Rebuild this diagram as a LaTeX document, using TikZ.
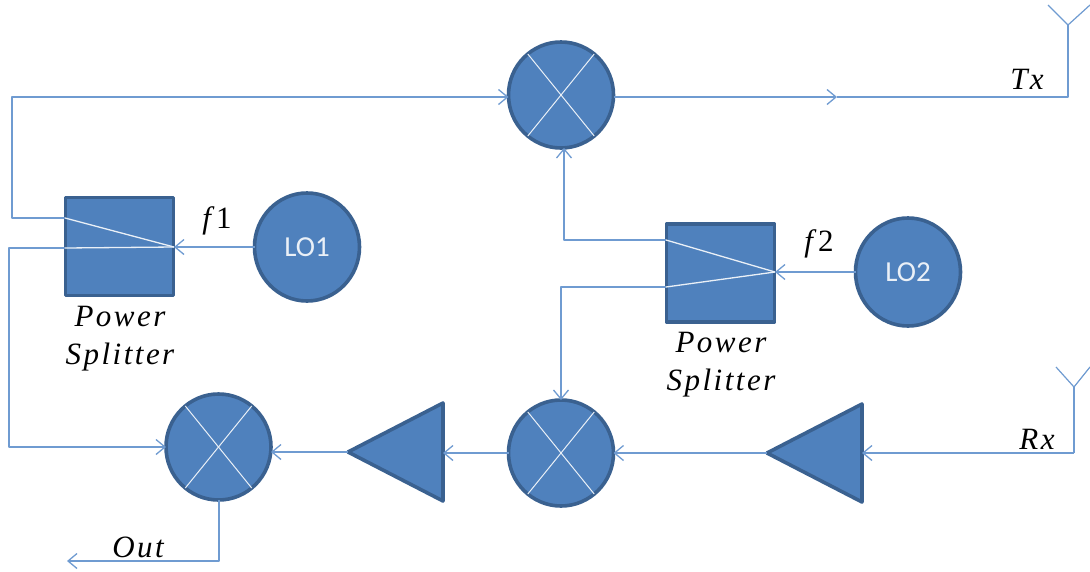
\documentclass[tikz,border=0pt]{standalone}
\usepackage{fontspec}
\setmainfont{Liberation Serif}
\newfontfamily\lofont{Carlito}
\usetikzlibrary{shapes.geometric,arrows.meta}
\definecolor{fillblue}{HTML}{4F81BD}
\definecolor{edgeblue}{HTML}{3A6190}
\definecolor{wireblue}{HTML}{6F9BD1}
\newcommand{\lbl}{\fontsize{31}{38}\selectfont\itshape\addfontfeatures{LetterSpace=8}}
\tikzset{
  x=1pt,y=-1pt,
  block/.style={draw=edgeblue,fill=fillblue,line width=3.6pt,outer sep=0pt,inner sep=0pt,line join=round},
  round blk/.style={block,ellipse,minimum width=105pt,minimum height=106pt},
  lo blk/.style={block,ellipse,minimum width=105pt,minimum height=108pt,text=white!88!fillblue,font=\lofont\fontsize{29}{29}\selectfont},
  split blk/.style={block,rectangle,minimum width=108pt,minimum height=98pt},
  amp blk/.style={block,isosceles triangle,isosceles triangle apex angle=55,isosceles triangle stretches,shape border rotate=180,minimum width=98pt,minimum height=95pt,anchor=apex},
  wire/.style={draw=wireblue,line width=1.6pt,line join=round},
  arrowed/.style={wire,-{Straight Barb[length=9pt,width=15pt,line width=1.3pt]}},
  inner wire/.style={draw=white!88!fillblue,line width=1.3pt},
  txt/.style={inner sep=0pt,text=black,font=\lbl,align=center}
}
\begin{document}
\begin{tikzpicture}
\useasboundingbox (0,0) rectangle (1090,571);
% blocks
\node[round blk] (mixT) at (561,95) {};
\node[round blk] (mixR) at (561,453) {};
\node[round blk] (mixL) at (218.500,447) {};
\node[split blk] (spA) at (119.500,246.500) {};
\node[split blk] (spB) at (720.500,273) {};
\node[lo blk] (loA) at (307,247) {LO1};
\node[lo blk] (loB) at (908,272) {LO2};
\node[amp blk] (ampL) at (348,452) {};
\node[amp blk] (ampR) at (767,453) {};
% crosses
\foreach \m in {mixT,mixR,mixL}{
  \draw[inner wire,line width=1pt] (\m.129) -- (\m.-51);
  \draw[inner wire,line width=1pt] (\m.51) -- (\m.-129);
}
% named points
\coordinate (aTip) at (174,247);
\coordinate (aUp) at (65,218);
\coordinate (aLow) at (65,248);
\coordinate (bTip) at (775,272);
\coordinate (bUp) at (666,240);
\coordinate (bLow) at (666,287);
\coordinate (corA) at (12,218);
\coordinate (corA2) at (12,97);
\coordinate (corB) at (9,248);
\coordinate (corB2) at (9,447);
\coordinate (corC) at (564,240);
\coordinate (corD) at (561,287);
\coordinate (txMid) at (837,97);
\coordinate (txCor) at (1068,97);
\coordinate (txFoot) at (1068,25);
\coordinate (txL) at (1048,5);
\coordinate (txR) at (1090,5);
\coordinate (rxFoot) at (1074,387);
\coordinate (rxCor) at (1074,453);
\coordinate (rxL) at (1056,367);
\coordinate (rxR) at (1090,367);
\coordinate (outCor) at (219,561);
\coordinate (outEnd) at (67,561);
% splitter interior
\draw[inner wire] (aUp) -- (aTip);
\draw[inner wire] (aLow) -- (aTip);
\draw[inner wire] (bUp) -- (bTip);
\draw[inner wire] (bLow) -- (bTip);
% connectors
\draw[arrowed] (aUp) -- (corA) -- (corA2) -- (mixT.west |- corA2);
\draw[arrowed] (aLow) -- (corB) -- (corB2) -- (mixL.west);
\draw[arrowed] (loA.west) -- (aTip);
\draw[arrowed] (bUp) -- (corC) -- (mixT.south -| corC);
\draw[arrowed] (bLow) -- (corD) -- (mixR.north -| corD);
\draw[arrowed] (loB.west) -- (bTip);
\draw[arrowed] (mixT.east |- txMid) -- (txMid);
\draw[wire] (txMid) -- (txCor) -- (txFoot);
\draw[wire,line width=1.2pt] (txL) -- (txFoot) -- (txR);
\draw[wire] (rxCor) -- (rxFoot);
\draw[wire,line width=1.2pt] (rxL) -- (rxFoot) -- (rxR);
\draw[arrowed] (rxCor) -- (ampR.east |- rxCor);
\draw[arrowed] (ampR.apex) -- (mixR.east);
\draw[arrowed] (mixR.west) -- (ampL.east |- mixR.west);
\draw[arrowed] (ampL.apex) -- (mixL.east |- ampL.apex);
\draw[arrowed] (mixL.south -| outCor) -- (outCor) -- (outEnd);
% labels
\node[txt] (lf1) at (217,221) {f\kern5pt\upshape 1};
\node[txt] (lf2) at (819,244) {f\kern5pt\upshape 2};
\node[txt] (psA) at (120,339) {Power\\Splitter};
\node[txt] (psB) at (721,365) {Power\\Splitter};
\node[txt] (lTx) at (1027,79) {Tx};
\node[txt] (lRx) at (1037,439) {Rx};
\node[txt] (lOut) at (138,547) {Out};
\end{tikzpicture}
\end{document}
